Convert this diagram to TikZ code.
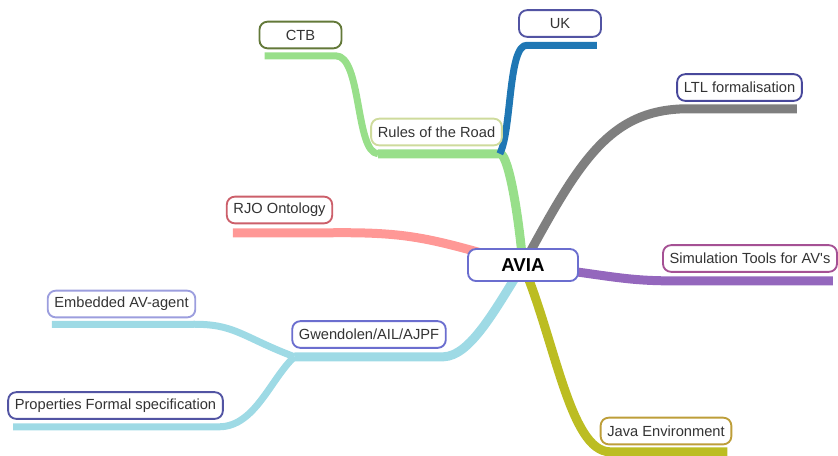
\documentclass[tikz,border=0pt]{standalone}
\usepackage{fontspec}
\setmainfont{Liberation Sans}
\usetikzlibrary{backgrounds}
\definecolor{txtgray}{RGB}{51,51,51}
\definecolor{brgreen}{RGB}{152,223,138}
\definecolor{brblue}{RGB}{31,119,180}
\definecolor{brgray}{RGB}{127,127,127}
\definecolor{brpink}{RGB}{255,152,150}
\definecolor{brpurple}{RGB}{148,103,189}
\definecolor{brcyan}{RGB}{158,218,229}
\definecolor{brolive}{RGB}{188,189,34}
\definecolor{bdviolet}{RGB}{107,110,207}
\definecolor{bdnavy}{RGB}{82,84,163}
\definecolor{bddark}{RGB}{72,72,155}
\definecolor{bdmoss}{RGB}{99,121,57}
\definecolor{bdlime}{RGB}{206,219,156}
\definecolor{bdred}{RGB}{204,95,106}
\definecolor{bdplum}{RGB}{165,81,148}
\definecolor{bdlilac}{RGB}{156,158,222}
\definecolor{bdgold}{RGB}{189,158,57}

\tikzset{
  topic/.style={draw, fill=white, rounded corners=6pt, line width=1.4pt,
    minimum width=61.5pt, minimum height=20pt, inner xsep=5pt, inner ysep=2pt,
    text=txtgray, font=\fontsize{11}{12}\selectfont},
  rootbox/.style={topic, draw=bdviolet, minimum width=82.5pt, minimum height=24pt,
    text=black, font=\fontsize{14}{16}\selectfont\bfseries},
  branch/.style={line width=6.75pt, line join=round},
  twig/.style={line width=5.25pt, line join=round}
}

\begin{document}
\begin{tikzpicture}[x=0.75pt, y=-0.75pt]
  \useasboundingbox (0,0) rectangle (838,455);

  \node[rootbox] (avia) at (523,265) {AVIA};
  \node[topic, draw=bdlime] (rules) at (436.5,132) {Rules of the Road};
  \node[topic, draw=bdmoss] (ctb) at (300.5,35) {CTB};
  \node[topic, draw=bdnavy] (uk) at (560,23.5) {UK};
  \node[topic, draw=bddark] (ltl) at (739.5,87.5) {LTL formalisation};
  \node[topic, draw=bdred] (rjo) at (279.5,210) {RJO Ontology};
  \node[topic, draw=bdplum] (sim) at (750,258.5) {Simulation Tools for AV\textquotesingle s};
  \node[topic, draw=bdviolet] (gwen) at (369,334.5) {Gwendolen/AIL/AJPF};
  \node[topic, draw=bdlilac] (emb) at (121.5,304) {Embedded AV-agent};
  \node[topic, draw=bdnavy] (prop) at (115.5,405.5) {Properties Formal specification};
  \node[topic, draw=bdgold] (java) at (666,431) {Java Environment};

  \begin{scope}[on background layer]
    \draw[branch, brgreen] (avia.center) .. controls (517,200) and (507,153) .. ([shift={(-3,7.5)}]rules.south east) -- ([shift={(8,7.5)}]rules.south west);
    \draw[twig, brgreen] ([shift={(8,7.5)}]rules.south west) .. controls (355,153) and (362,55) .. ([shift={(-7,6.5)}]ctb.south east) -- ([shift={(6,6.5)}]ctb.south west);
    \draw[twig, brblue] ([shift={(-3,7.5)}]rules.south east) .. controls (512,130) and (508,44) .. ([shift={(9,7.5)}]uk.south west) -- ([shift={(-5,7.5)}]uk.south east);
    \draw[branch, brgray] (avia.center) .. controls (580,160) and (610,108) .. ([shift={(14,7)}]ltl.south west) -- ([shift={(-6,7)}]ltl.south east);
    \draw[branch, brpink] (avia.center) .. controls (430,238) and (410,232) .. ([shift={(-3,8.5)}]rjo.south east) -- ([shift={(7,8.5)}]rjo.south west);
    \draw[branch, brpurple] (avia.center) .. controls (600,274) and (620,280) .. ([shift={(0,8)}]sim.south west) -- ([shift={(-5,8)}]sim.south east);
    \draw[branch, brcyan] (avia.center) .. controls (495,310) and (470,356) .. ([shift={(-3,8)}]gwen.south east) -- ([shift={(3,8)}]gwen.south west);
    \draw[twig, brcyan] ([shift={(3,8)}]gwen.south west) .. controls (240,336) and (235,323.5) .. ([shift={(-6,6)}]emb.south east) -- ([shift={(5,6)}]emb.south west);
    \draw[twig, brcyan] ([shift={(3,8)}]gwen.south west) .. controls (270,380) and (255,426) .. ([shift={(-4,7)}]prop.south east) -- ([shift={(6,7)}]prop.south west);
    \draw[branch, brolive] (avia.center) .. controls (555,340) and (570,451) .. ([shift={(10,6.5)}]java.south west) -- ([shift={(-5,6.5)}]java.south east);
  \end{scope}
\end{tikzpicture}
\end{document}
